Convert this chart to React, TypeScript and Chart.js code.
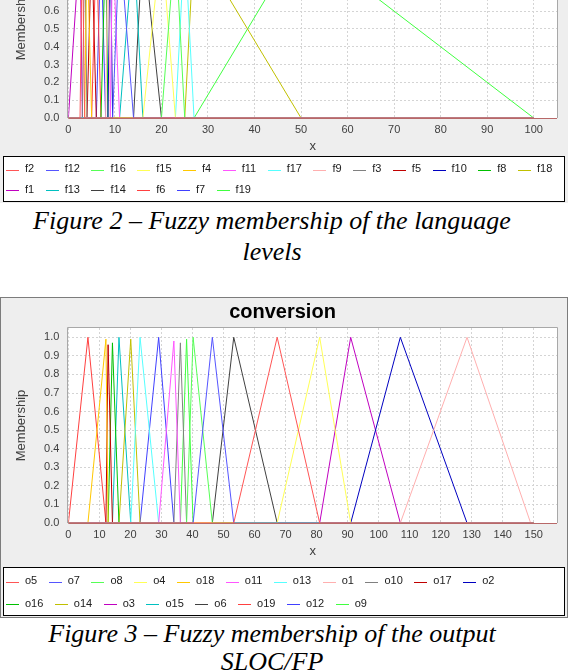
import React, { useEffect, useRef } from 'react';
import { Chart, registerables } from 'chart.js';

Chart.register(...registerables);

// ---------- Figure 2 : fuzzy membership of the language levels (legend order) ----------
const levelNames = ['f2', 'f12', 'f16', 'f15', 'f4', 'f11', 'f17', 'f9', 'f3', 'f5', 'f10', 'f8', 'f18', 'f1', 'f13', 'f14', 'f6', 'f7', 'f19'];
const levelStart = [2.5, 9.5, 20, 16, 3.5, 9, 23, 8, 3, 4, 8.5, 7, 25, 0, 11, 14, 5, 6, 27];
const levelPeak = [3, 11, 23, 20, 4, 9.5, 25, 8.5, 3.5, 5, 9, 8, 27, 2.5, 14, 16, 6, 7, 50];
const levelEnd = [3.5, 14, 25, 23, 5, 11, 27, 9, 4, 6, 9.5, 8.5, 50, 3, 16, 20, 7, 8, 100];
const levelUniverse = [0, 100];
const levelAxisMax = 105;

// ---------- Figure 3 : fuzzy membership of the output SLOC/FP (legend order) ----------
const outNames = ['o5', 'o7', 'o8', 'o4', 'o18', 'o11', 'o13', 'o1', 'o10', 'o17', 'o2', 'o16', 'o14', 'o3', 'o15', 'o6', 'o19', 'o12', 'o9'];
const outStart = [53.3, 40.2, 38.1, 67.3, 6.3, 29.1, 20.1, 107, 34, 12.1, 91, 12.8, 16.3, 81, 14.2, 46.4, 0, 23.1, 36.1];
const outPeak = [67.3, 46.4, 40.2, 81, 12.1, 34, 23.1, 128.5, 36.1, 12.8, 107, 14.2, 20.1, 91, 16.3, 53.3, 6.3, 29.1, 38.1];
const outEnd = [81, 53.3, 46.4, 91, 12.8, 36.1, 29.1, 149, 38.1, 14.2, 128.5, 16.3, 23.1, 107, 20.1, 67.3, 12.1, 34, 40.2];
const outHeight = [1, 1, 1, 1, 0.99, 0.98, 1, 1, 0.97, 0.96, 1, 0.97, 0.99, 1, 1, 1, 1, 1, 0.99];
const outUniverse = [0, 150];
const outAxisMax = 157.5;

const palette = ['#FF5555', '#5555FF', '#55FF55', '#FFFF55', '#FFC800', '#FF55FF', '#55FFFF', '#FFAFAF', '#808080',
  '#C00000', '#0000C0', '#00C000', '#C0C000', '#C000C0', '#00C0C0', '#404040', '#FF4040', '#4040FF', '#40FF40'];

const SANS = '"Liberation Sans", Arial, sans-serif';

const panelPlugin = {
  id: 'panel',
  beforeDraw(chart: any, _a: any, o: any) {
    const { ctx, width, height, chartArea: ca } = chart;
    ctx.save();
    ctx.fillStyle = '#eeeeee';
    ctx.fillRect(0, 0, width, height);
    ctx.fillStyle = '#ffffff';
    ctx.fillRect(ca.left, ca.top, ca.right - ca.left, ca.bottom - ca.top);
    if (o && o.frame) {
      ctx.strokeStyle = '#7c7c7c';
      ctx.lineWidth = 1;
      ctx.strokeRect(0.5, 0.5, width - 1, height - 1);
    }
    ctx.restore();
  },
  beforeDatasetsDraw(chart: any) {
    const { ctx, chartArea: ca } = chart;
    ctx.save();
    ctx.lineWidth = 1;
    ctx.strokeStyle = '#a8a8a8';
    ctx.beginPath();
    ctx.moveTo(Math.round(ca.left) - 0.5, Math.round(ca.bottom));
    ctx.lineTo(Math.round(ca.left) - 0.5, Math.round(ca.top) - 0.5);
    ctx.lineTo(Math.round(ca.right) + 0.5, Math.round(ca.top) - 0.5);
    ctx.lineTo(Math.round(ca.right) + 0.5, Math.round(ca.bottom));
    ctx.stroke();
    ctx.strokeStyle = '#b86868';
    ctx.beginPath();
    ctx.moveTo(ca.left, Math.round(ca.bottom) + 0.5);
    ctx.lineTo(ca.right, Math.round(ca.bottom) + 0.5);
    ctx.stroke();
    ctx.restore();
  },
};

const boxLegend = {
  id: 'boxLegend',
  afterDraw(chart: any, _a: any, o: any) {
    const { ctx } = chart;
    ctx.save();
    ctx.fillStyle = '#ffffff';
    ctx.fillRect(o.boxLeft, o.boxTop, o.boxRight - o.boxLeft, o.boxBottom - o.boxTop);
    ctx.strokeStyle = '#000000';
    ctx.lineWidth = 1;
    ctx.strokeRect(o.boxLeft + 0.5, o.boxTop + 0.5, o.boxRight - o.boxLeft - 1, o.boxBottom - o.boxTop - 1);
    ctx.font = o.font;
    ctx.textBaseline = 'middle';
    ctx.textAlign = 'left';
    let x = o.boxLeft + o.inset;
    let y = o.boxTop + o.firstRow;
    chart.data.datasets.forEach((ds: any) => {
      const w = o.lineLen + o.textGap + ctx.measureText(ds.label).width;
      if (x + w > o.wrapAt) {
        x = o.boxLeft + o.inset;
        y += o.rowGap;
      }
      // keep the 1px swatch line on an even page row
      let row = Math.round(y);
      if ((row + o.pageTop) % 2 !== 0) row += 1;
      const lx = Math.round(x);
      ctx.strokeStyle = ds.borderColor;
      ctx.lineWidth = 1;
      ctx.beginPath();
      ctx.moveTo(lx, row + 0.5);
      ctx.lineTo(lx + o.lineLen, row + 0.5);
      ctx.stroke();
      ctx.fillStyle = o.color;
      ctx.fillText(ds.label, x + o.lineLen + o.textGap, y);
      x += w + o.itemGap;
    });
    ctx.restore();
  },
};

type Props = {
  names: string[];
  starts: number[];
  peaks: number[];
  ends: number[];
  heights?: number[];
  universe: number[];
  xMax: number;
  title?: string;
  top: number;
  height: number;
  padBottom: number;
  frame: boolean;
  legendTop: number;
  legendBottom: number;
  firstRow: number;
  rowGap: number;
  wrapAt: number;
};

function FuzzyChart(p: Props) {
  const ref = useRef<HTMLCanvasElement>(null);
  useEffect(() => {
    const datasets = p.names.map((name, i) => ({
      label: name,
      data: [
        { x: p.universe[0], y: 0 },
        { x: p.starts[i], y: 0 },
        { x: p.peaks[i], y: p.heights ? p.heights[i] : 1 },
        { x: p.ends[i], y: 0 },
        { x: p.universe[1], y: 0 },
      ],
      borderColor: palette[i],
      backgroundColor: palette[i],
      borderWidth: 1,
      pointRadius: 0,
      pointHoverRadius: 0,
      showLine: true,
      fill: false,
      tension: 0,
    }));
    const tickFont = { family: SANS, size: 11 };
    const axisTitleFont = { family: SANS, size: 13 };
    const chart = new Chart(ref.current as HTMLCanvasElement, {
      type: 'scatter',
      data: { datasets },
      options: {
        responsive: false,
        animation: false,
        devicePixelRatio: 1,
        layout: { padding: { left: 8, right: 11, top: p.title ? 0 : 31, bottom: p.padBottom } },
        plugins: {
          legend: { display: false },
          tooltip: { enabled: false },
          title: p.title
            ? {
                display: true,
                text: p.title,
                color: '#000000',
                font: { family: SANS, size: 20, weight: 'bold' },
                padding: { top: 3, bottom: 4 },
              }
            : { display: false },
          panel: { frame: p.frame },
          boxLegend: {
            boxLeft: 3,
            boxRight: 565,
            boxTop: p.legendTop,
            boxBottom: p.legendBottom,
            inset: 3,
            firstRow: p.firstRow,
            rowGap: p.rowGap,
            lineLen: 13,
            textGap: 6,
            itemGap: 11.5,
            wrapAt: p.wrapAt,
            pageTop: p.top,
            font: `11px ${SANS}`,
            color: '#202020',
          },
        } as any,
        scales: {
          x: {
            type: 'linear',
            min: 0,
            max: p.xMax,
            ticks: {
              stepSize: 10,
              includeBounds: false,
              padding: 5,
              font: tickFont,
              color: '#404040',
              maxRotation: 0,
              autoSkip: false,
              callback: (v: any) => String(v),
            },
            grid: { color: '#d4d4d4', lineWidth: 1, drawTicks: false },
            border: { display: false, dash: [2, 2] },
            title: { display: true, text: 'x', color: '#404040', font: axisTitleFont, padding: { top: -3, bottom: 4 } },
          },
          y: {
            type: 'linear',
            min: 0,
            max: 1.05,
            ticks: {
              stepSize: 0.1,
              includeBounds: false,
              padding: 9,
              font: tickFont,
              color: '#404040',
              callback: (v: any) => Number(v).toFixed(1),
            },
            grid: { color: '#d4d4d4', lineWidth: 1, drawTicks: false },
            border: { display: false, dash: [2, 2] },
            title: {
              display: true,
              text: 'Membership',
              color: '#404040',
              font: axisTitleFont,
              padding: { top: 6, bottom: 5.5 },
            },
          },
        },
      } as any,
      plugins: [panelPlugin, boxLegend],
    });
    return () => chart.destroy();
  }, []);
  return (
    <canvas
      ref={ref}
      width={568}
      height={p.height}
      style={{ position: 'absolute', left: 0, top: p.top, width: 568, height: p.height }}
    />
  );
}

const captionStyle: React.CSSProperties = {
  position: 'absolute',
  left: 0,
  width: 544,
  textAlign: 'center',
  fontFamily: '"Liberation Serif", "Times New Roman", serif',
  fontStyle: 'italic',
  fontSize: 26,
  lineHeight: '31px',
  color: '#000',
  whiteSpace: 'nowrap',
};

export default function App() {
  useEffect(() => {
    document.body.style.margin = '0';
    document.body.style.background = '#ffffff';
  }, []);
  return (
    <div style={{ position: 'relative', width: 568, height: 672, overflow: 'hidden', background: '#ffffff' }}>
      <FuzzyChart
        names={levelNames}
        starts={levelStart}
        peaks={levelPeak}
        ends={levelEnd}
        universe={levelUniverse}
        xMax={levelAxisMax}
        top={-100}
        height={303}
        padBottom={45.2}
        frame={false}
        legendTop={256}
        legendBottom={302}
        firstRow={13}
        rowGap={21}
        wrapAt={562}
      />
      <div style={{ ...captionStyle, top: 205 }}>Figure 2 – Fuzzy membership of the language</div>
      <div style={{ ...captionStyle, top: 236 }}>levels</div>
      <FuzzyChart
        names={outNames}
        starts={outStart}
        peaks={outPeak}
        ends={outEnd}
        heights={outHeight}
        universe={outUniverse}
        xMax={outAxisMax}
        title="conversion"
        top={297}
        height={321}
        padBottom={55.2}
        frame={true}
        legendTop={270}
        legendBottom={319}
        firstRow={14}
        rowGap={23}
        wrapAt={520}
      />
      <div style={{ ...captionStyle, top: 618 }}>Figure 3 – Fuzzy membership of the output</div>
      <div style={{ ...captionStyle, top: 646 }}>SLOC/FP</div>
    </div>
  );
}
